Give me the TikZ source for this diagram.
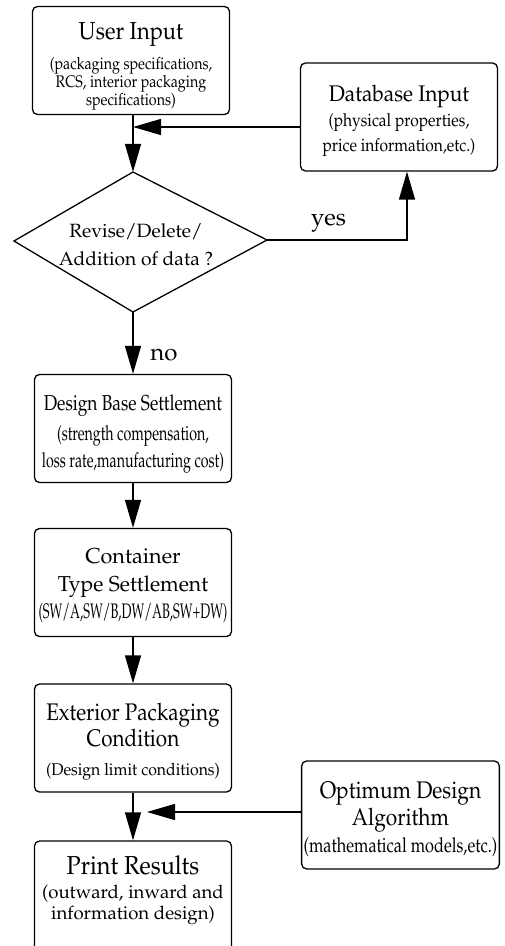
\documentclass[tikz,border=0pt]{standalone}
\usepackage[T1]{fontenc}
\usepackage{mathpazo}
\usepackage{graphicx}
\usepackage{tikz}
\usetikzlibrary{arrows.meta}
\usetikzlibrary{calc}

% one squeezed text line: #1 = horizontal squeeze, #2 = font size
\newcommand{\fitline}[3]{\scalebox{#1}[1]{\fontsize{#2}{\the\baselineskip}\selectfont #3}}

\begin{document}
\begin{tikzpicture}[x=0.5pt, y=0.5pt,
        box/.style={draw, line width=0.65pt, rounded corners=2.5pt,
            minimum width=98.5pt, minimum height=54pt, inner sep=1pt, align=center},
        flow/.style={line width=0.65pt, -{Triangle[length=14pt, width=8pt]}},
        answer/.style={font=\fontsize{12}{12}\selectfont}]
        \useasboundingbox (0,0) rectangle (504,-946);

        % left column
        \node[box, font=\fontsize{10}{9}\selectfont] (user) at (131,-60.5)
            {\rule{0pt}{14pt}\fitline{0.89}{12.3}{User Input}\\[4.5pt]
             \fitline{0.85}{8.4}{(packaging specifications,}\\
             \fitline{0.85}{8.4}{RCS, interior packaging}\\
             \fitline{0.85}{8.4}{specifications)}};

        \coordinate (dtop) at (133,-172);
        \coordinate (dright) at (267,-240);
        \coordinate (dbot) at (133,-312);
        \coordinate (dleft) at (14,-241);
        \draw[line width=0.65pt] (dtop) -- (dright) -- (dbot) -- (dleft) -- cycle;
        \node[font=\fontsize{9.6}{14}\selectfont, align=center] (check) at (136,-245)
            {Revise/Delete/\\Addition of data ?};

        \node[box, font=\fontsize{10}{13.5}\selectfont] (design) at (133,-428.5)
            {\rule{0pt}{13pt}\fitline{0.8}{10.8}{Design Base Settlement}\\[1.5pt]
             \fitline{0.69}{10.3}{(strength compensation,}\\
             \fitline{0.69}{10.3}{loss rate,manufacturing cost)}};
        \node[box, font=\fontsize{10}{13.5}\selectfont] (container) at (133,-582.5)
            {\rule{0pt}{10.5pt}\fitline{1}{10.8}{Container}\\[0.5pt]
             \fitline{0.98}{10.8}{Type Settlement}\\
             \fitline{0.61}{10.5}{(SW/A,SW/B,DW/AB,SW+DW)}};
        \node[box, font=\fontsize{10}{13}\selectfont] (exterior) at (133,-738)
            {\rule{0pt}{12.5pt}\fitline{0.86}{12}{Exterior Packaging}\\
             \fitline{0.86}{12}{Condition}\\[1.5pt]
             \fitline{0.93}{8.5}{(Design limit conditions)}};
        \node[box, minimum height=56pt, font=\fontsize{10}{10.5}\selectfont] (print) at (133,-897)
            {\fitline{0.9}{13}{Print Results}\\[1.5pt]
             \fitline{1}{9.3}{(outward, inward and}\\
             \fitline{1}{9.3}{information design)}\rule[-9.5pt]{0pt}{1pt}};

        % right column
        \node[box, font=\fontsize{10}{12.5}\selectfont] (database) at (399,-117)
            {\rule{0pt}{12.3pt}\fitline{0.92}{11.3}{Database Input}\\
             \fitline{0.865}{9}{(physical properties,}\\
             \fitline{0.865}{9}{price information,etc.)}};
        \node[box, font=\fontsize{10}{13.5}\selectfont] (optimum) at (400.5,-815)
            {\rule{0pt}{13pt}\fitline{0.87}{12}{Optimum Design}\\
             \fitline{0.87}{12}{Algorithm}\\
             \fitline{0.79}{10.3}{(mathematical models,etc.)}};

        \coordinate (merge1) at (133,-127);
        \coordinate (merge2) at (147,-812);

        % connectors
        \draw[flow] (user.south -| dtop) -- (dtop);
        \draw[flow] (database.west |- merge1) -- (merge1);
        \draw[flow] (dright) -| node[pos=0.22, above, answer] {yes} ([xshift=4pt]database.south);
        \draw[flow] (dbot) -- node[pos=0.7, right, xshift=5pt, answer] {no} (design.north);
        \draw[flow] (design) -- (container);
        \draw[flow] (container) -- (exterior);
        \draw[flow] (exterior) -- (print);
        \draw[flow] (optimum.west |- merge2) -- (merge2);
    \end{tikzpicture}
\end{document}
